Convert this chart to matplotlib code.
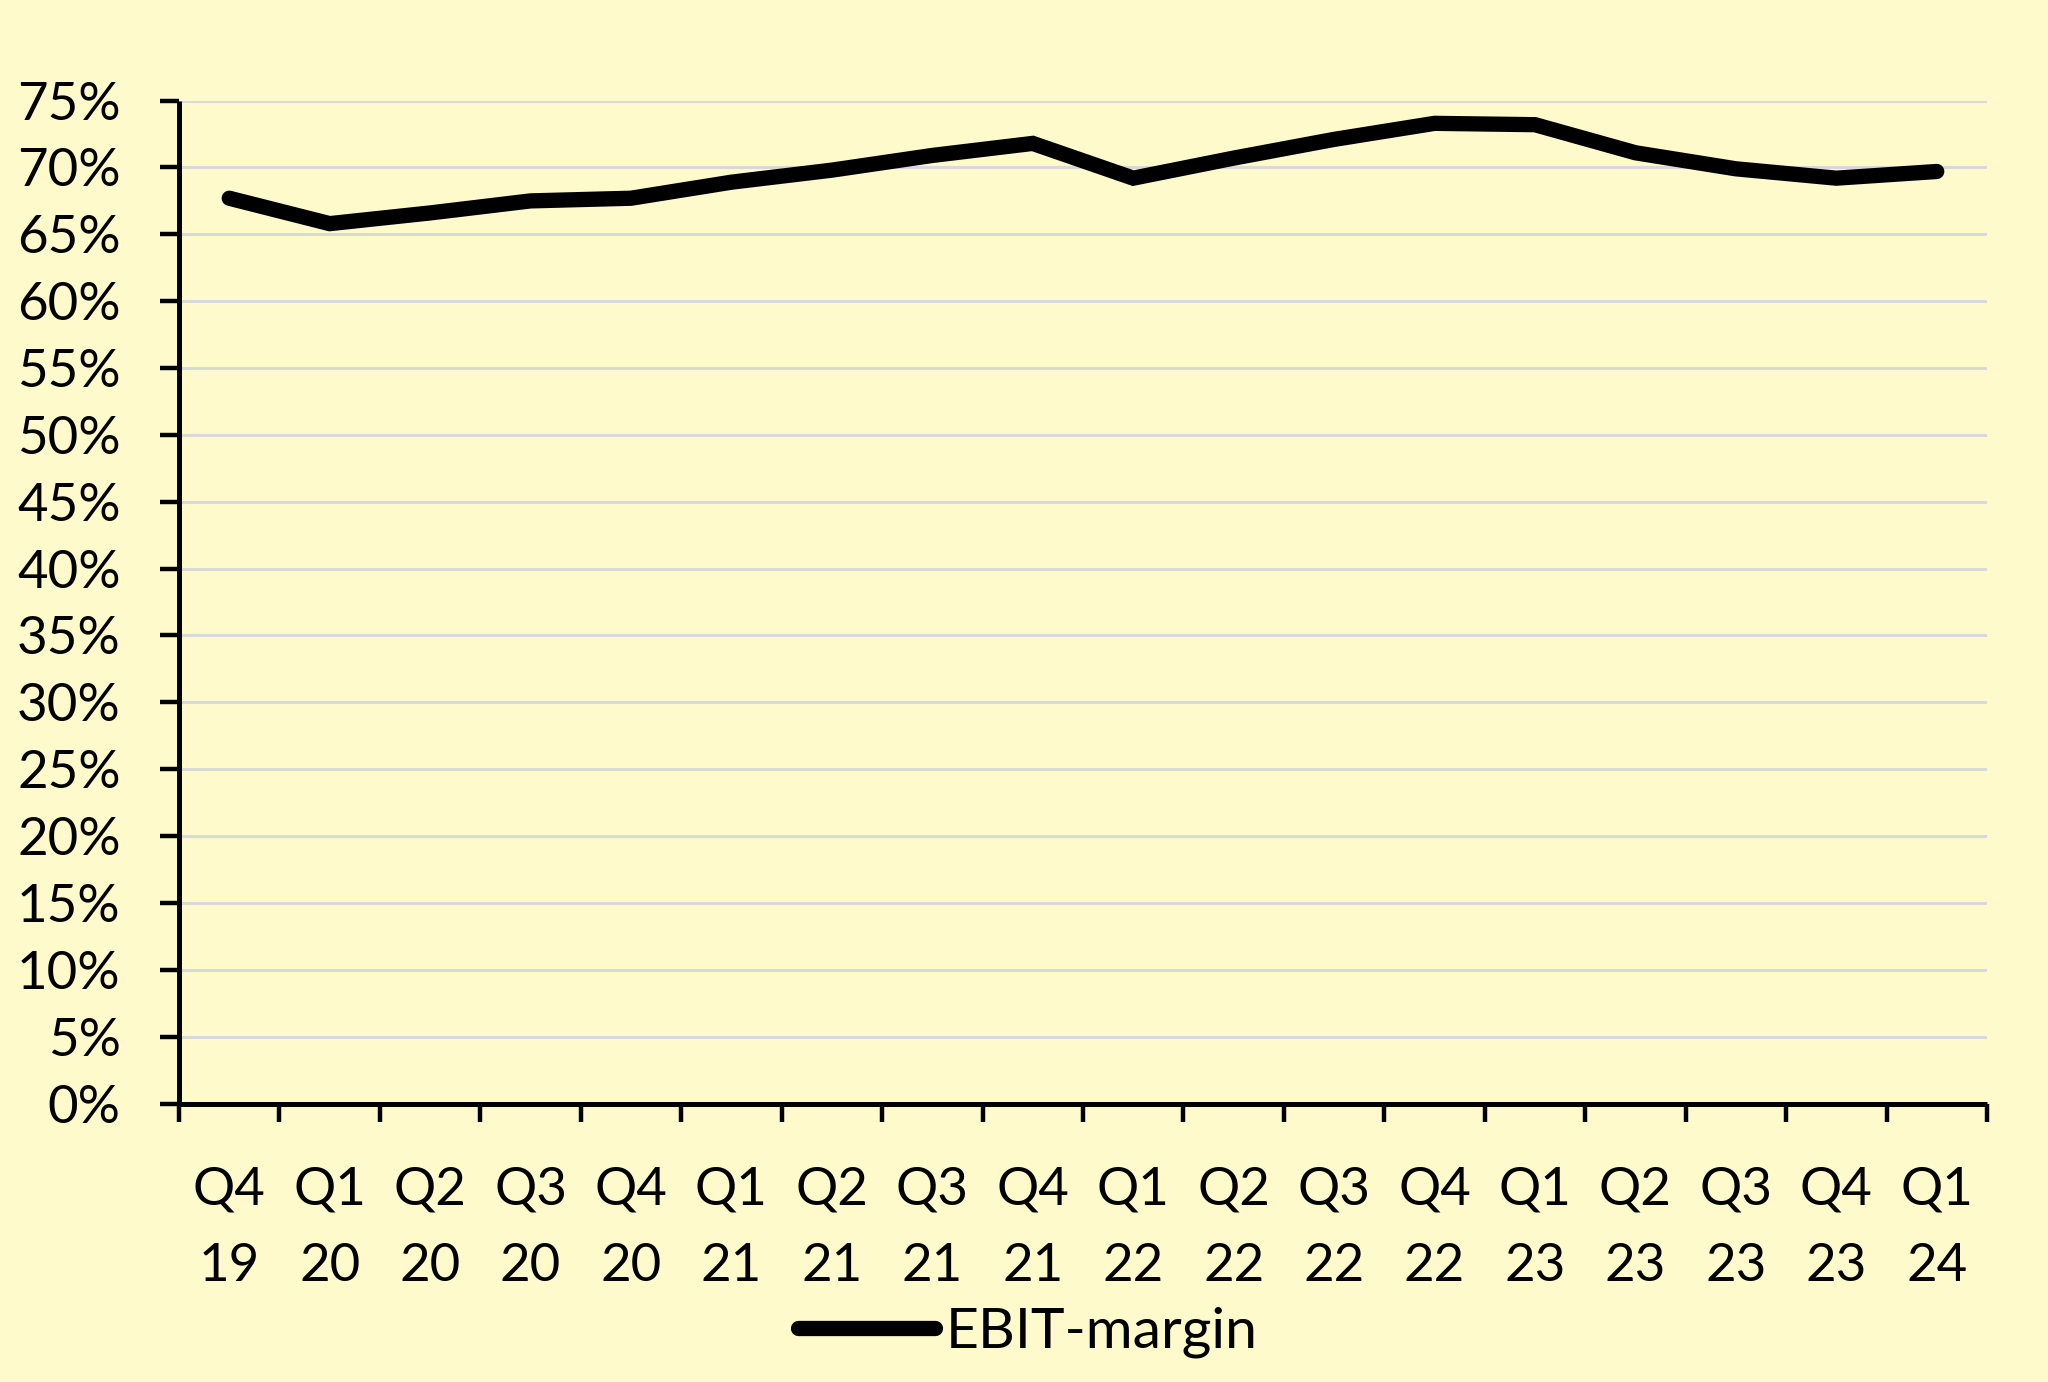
import matplotlib
matplotlib.use("Agg")
import matplotlib.pyplot as plt
from matplotlib.ticker import FuncFormatter, MultipleLocator
import numpy as np

# quarter labels and EBIT-margin values
quarters = ["Q4\n19", "Q1\n20", "Q2\n20", "Q3\n20", "Q4\n20", "Q1\n21", "Q2\n21", "Q3\n21",
            "Q4\n21", "Q1\n22", "Q2\n22", "Q3\n22", "Q4\n22", "Q1\n23", "Q2\n23", "Q3\n23",
            "Q4\n23", "Q1\n24"]
ebit_margin = [0.677, 0.658, 0.666, 0.675, 0.677, 0.689, 0.698, 0.709,
               0.718, 0.692, 0.707, 0.721, 0.733, 0.732, 0.711, 0.699,
               0.692, 0.697]

bg = "#FFFACC"
plt.rcParams['font.family'] = ['Lato', 'DejaVu Sans']

fig = plt.figure(figsize=(20.48, 13.82), dpi=100, facecolor=bg)
ax = fig.add_axes([0.0874, 0.2015, 0.8828, 0.7257])
ax.set_facecolor(bg)

x = np.arange(len(quarters))
ax.plot(x, ebit_margin, color="black", lw=11, solid_capstyle="round",
        solid_joinstyle="miter", label="EBIT-margin", zorder=3)

ax.set_xlim(-0.5, len(quarters) - 0.5)
ax.set_ylim(0, 0.75)

ax.yaxis.set_major_locator(MultipleLocator(0.05))
ax.yaxis.set_major_formatter(FuncFormatter(lambda v, p: f"{v*100:.0f}%"))
ax.grid(axis="y", color="#D9D9D9", lw=2.2, zorder=0)
ax.set_axisbelow(True)

ax.set_xticks(x)
ax.set_xticklabels(quarters, linespacing=1.8)
ax.set_xticks(np.arange(-0.5, len(quarters)), minor=True)
ax.tick_params(axis="x", which="major", length=0, pad=45, labelsize=38)
ax.tick_params(axis="x", which="minor", length=13, width=3.2, direction="out")
ax.tick_params(axis="y", length=14, width=3.2, pad=28, labelsize=38)

for s in ["top", "right"]:
    ax.spines[s].set_visible(False)
for s in ["left", "bottom"]:
    ax.spines[s].set_linewidth(3.6)
    ax.spines[s].set_capstyle("butt")

leg = fig.legend(loc="lower center", bbox_to_anchor=(0.502, -0.02), frameon=False,
                 fontsize=41, handlelength=2.4, handletextpad=0.2)

fig.savefig("out.png", dpi=100, facecolor=bg)
